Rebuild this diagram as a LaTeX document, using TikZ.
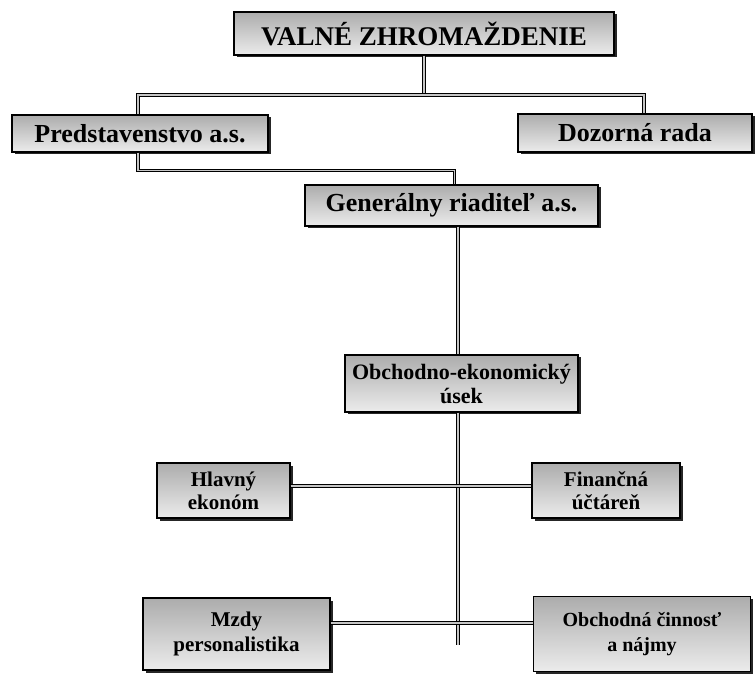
\documentclass[tikz,border=0pt]{standalone}
\usepackage{fontspec}
\setmainfont{Liberation Serif}
\usetikzlibrary{shadows}
\tikzset{
  orgbox/.style={draw=black, line width=1.2pt, top color=gray!65, bottom color=gray!15,
    drop shadow={shadow xshift=2.5pt, shadow yshift=-2.5pt, fill=black, opacity=0.85},
    inner sep=0pt, align=center, font=\bfseries},
  conn/.style={draw=black, line width=1pt, double=gray!45, double distance=1.2pt}
}
\begin{document}
\begin{tikzpicture}[x=1pt,y=-1pt]
\useasboundingbox (0,0) rectangle (756,679);
\node[orgbox, minimum width=380pt, minimum height=43pt, font=\bfseries\fontsize{27}{30}\selectfont] (vz) at (424,33.5) {VALNÉ ZHROMAŽDENIE};
\node[orgbox, minimum width=256pt, minimum height=37pt, font=\bfseries\fontsize{26}{29}\selectfont] (pr) at (140,133.5) {Predstavenstvo a.s.};
\node[orgbox, minimum width=234pt, minimum height=38pt, font=\bfseries\fontsize{26}{29}\selectfont] (dr) at (635,133) {Dozorná rada};
\node[orgbox, minimum width=293pt, minimum height=41pt, font=\bfseries\fontsize{26}{29}\selectfont] (gr) at (451.5,205.5) {Generálny riaditeľ a.s.};
\node[orgbox, minimum width=233pt, minimum height=57pt, font=\bfseries\fontsize{22}{24}\selectfont] (oe) at (461.5,383.5) {Obchodno-ekonomický\\úsek};
\node[orgbox, minimum width=133pt, minimum height=55pt, font=\bfseries\fontsize{21}{23}\selectfont] (he) at (223.5,490.5) {Hlavný\\ekonóm};
\node[orgbox, minimum width=148pt, minimum height=55pt, font=\bfseries\fontsize{21}{23}\selectfont] (fu) at (606,490.5) {Finančná\\účtáreň};
\node[orgbox, minimum width=187pt, minimum height=72pt, font=\bfseries\fontsize{21}{25}\selectfont] (mp) at (236.5,634) {Mzdy\\personalistika};
\node[orgbox, minimum width=217pt, minimum height=75pt, font=\bfseries\fontsize{20}{25}\selectfont] (on) at (642,634) {Obchodná činnosť\\a nájmy};
\coordinate (j1) at (424,95);
\coordinate (sp) at (458,0);
\coordinate (j3) at (458,645);
\draw[conn] (vz.south) -- (j1);
\draw[conn] (j1) -| ([xshift=-2pt]pr.north);
\draw[conn] (j1) -| ([xshift=9pt]dr.north);
\draw[conn] ([xshift=-2pt]pr.south) -- ++(0,18) -| ([xshift=3pt]gr.north);
\draw[conn] (gr.south -| sp) -- (oe.north -| sp);
\draw[conn] (oe.south -| sp) -- (j3);
\draw[conn] ([yshift=4.5pt]he.east) -- ([yshift=4.5pt]fu.west);
\draw[conn] ([yshift=11pt]mp.east) -- ([yshift=11pt]on.west);
\end{tikzpicture}
\end{document}
